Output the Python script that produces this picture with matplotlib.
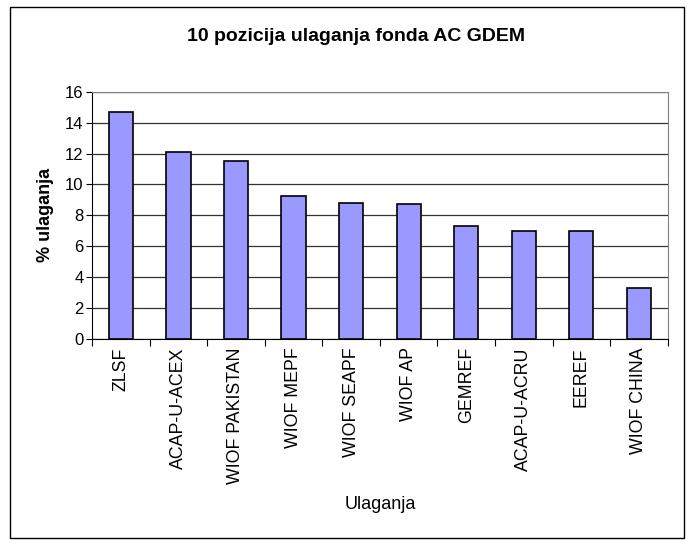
import matplotlib.pyplot as plt
import numpy as np
from matplotlib.patches import Rectangle

plt.rcParams['font.family'] = ['Liberation Sans', 'DejaVu Sans']

categories = ['ZLSF', 'ACAP-U-ACEX', 'WIOF PAKISTAN', 'WIOF MEPF', 'WIOF SEAPF',
              'WIOF AP', 'GEMREF', 'ACAP-U-ACRU', 'EEREF', 'WIOF CHINA']
values = [14.7, 12.1, 11.5, 9.25, 8.8, 8.7, 7.3, 7.0, 7.0, 3.3]

fig = plt.figure(figsize=(6.87, 5.43), dpi=100)
ax = fig.add_axes([0.134, 0.376, 0.838, 0.455])

x = np.arange(len(categories))
ax.set_axisbelow(True)
ax.bar(x, values, width=0.42, color='#9999ff', edgecolor='black', linewidth=1.2, zorder=3)

ax.set_xlim(-0.5, len(categories) - 0.5)
ax.set_ylim(0, 16)
ax.set_yticks(np.arange(0, 17, 2))
ax.yaxis.grid(True, color='#333333', linewidth=0.9)
ax.tick_params(axis='y', labelsize=12, length=4, width=0.8, direction='out', pad=2)

ax.set_xticks(x)
ax.set_xticklabels(categories, rotation=90, fontsize=12.8)
ax.tick_params(axis='x', which='major', length=0, pad=6)
ax.set_xticks(np.arange(-0.5, len(categories), 1), minor=True)
ax.tick_params(axis='x', which='minor', length=5, width=0.8, direction='out')

for s in ['top', 'right']:
    ax.spines[s].set_color('#808080')
for s in ['left', 'bottom']:
    ax.spines[s].set_color('black')

ax.set_ylabel('% ulaganja', fontsize=13, fontweight='bold', labelpad=8)
ax.set_xlabel('Ulaganja', fontsize=13, labelpad=9)
fig.text(0.518, 0.932, '10 pozicija ulaganja fonda AC GDEM', ha='center', va='center',
         fontsize=14, fontweight='bold')

fig.patches.append(Rectangle((0.014, 0.01), 0.982, 0.977, transform=fig.transFigure,
                             fill=False, edgecolor='black', linewidth=1.0))

fig.savefig('out.png', dpi=100)
